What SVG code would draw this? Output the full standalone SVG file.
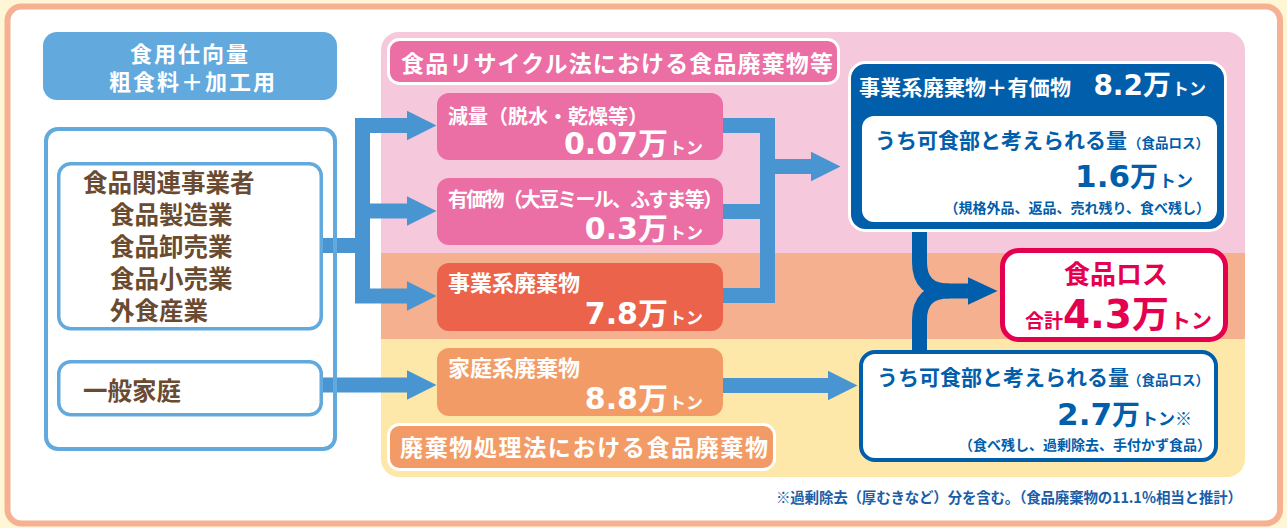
<svg xmlns="http://www.w3.org/2000/svg" width="1287" height="528" viewBox="0 0 1287 528">
<style>
.jp{font-family:"Noto Sans CJK JP","Noto Sans",sans-serif;font-weight:700}
.num{font-family:"DejaVu Sans","Liberation Sans",sans-serif;font-weight:700}
.w{fill:#ffffff}
.brown{fill:#6A4B31}
.dk{fill:#005EAB}
.red{fill:#E5004F}
.lb{fill:none;stroke:#62A9DD}
.conn{fill:none;stroke:#4895D2;stroke-width:15}
.dconn{fill:none;stroke:#005EAB;stroke-width:15}
.pk{fill:#EB6EA4}
</style>
<defs>
<clipPath id="bandclip"><rect x="381" y="32" width="864" height="445" rx="18"/></clipPath>
<marker id="ah" viewBox="0 0 30 30" markerWidth="30" markerHeight="30" refX="0.5" refY="15" orient="auto" markerUnits="userSpaceOnUse"><path d="M0,0 L30,15 L0,30 Z" fill="#4895D2"/></marker>
<marker id="ahd" viewBox="0 0 30 30" markerWidth="30" markerHeight="30" refX="0.5" refY="15" orient="auto" markerUnits="userSpaceOnUse"><path d="M0,1 L30,15 L0,29 Z" fill="#005EAB"/></marker>
</defs>
<rect x="0" y="0" width="1287" height="528" fill="#FFF6D6"/>
<rect x="7.5" y="6.5" width="1272.5" height="517" rx="14" fill="#ffffff" stroke="#F5B191" stroke-width="6"/>
<g id="bands" clip-path="url(#bandclip)">
<rect x="381" y="32" width="864" height="221" fill="#F6C8DC"/>
<rect x="381" y="253" width="864" height="86" fill="#F4B08F"/>
<rect x="381" y="339" width="864" height="138" fill="#FDE7A9"/>
</g>
<g id="connectors">
<path class="conn" d="M323,245.5 H362.5"/>
<path class="conn" d="M362.5,118 V303"/>
<path class="conn" d="M355,125.5 H407" marker-end="url(#ah)"/>
<path class="conn" d="M370,211 H407" marker-end="url(#ah)"/>
<path class="conn" d="M355,296 H407" marker-end="url(#ah)"/>
<path class="conn" d="M323,385 H407" marker-end="url(#ah)"/>
<path class="conn" d="M723,125.5 H767.5 V295.5 H723" stroke-linejoin="miter"/>
<path class="conn" d="M723,211.5 H760"/>
<path class="conn" d="M775,166.5 H811" marker-end="url(#ah)"/>
<path class="conn" d="M723,385.5 H828" marker-end="url(#ah)"/>
<path class="dconn" d="M919.5,232 V262 Q919.5,291 949,291 H968" marker-end="url(#ahd)"/>
<path class="dconn" d="M919.5,351 V320 Q919.5,291 949,291"/>
</g>
<g id="title-node">
<rect x="43" y="32" width="294" height="68" rx="14" fill="#62A9DD"/>
<text class="jp w" x="190" y="61.5" font-size="22" letter-spacing="2" text-anchor="middle">食用仕向量</text>
<text class="jp w" x="193" y="90" font-size="22" letter-spacing="2" text-anchor="middle">粗食料＋加工用</text>
</g>
<g id="source-frame">
<rect class="lb" x="46" y="129" width="289" height="320" rx="12" stroke-width="4"/>
</g>
<g id="business-node">
<rect class="lb" x="58.75" y="163.75" width="262.5" height="165" rx="12" stroke-width="3.5" fill="#ffffff"/>
<text class="jp brown" font-size="24.5">
<tspan x="83" y="191.5">食品関連事業者</tspan>
<tspan x="110" y="223.5">食品製造業</tspan>
<tspan x="110" y="255.5">食品卸売業</tspan>
<tspan x="110" y="287.5">食品小売業</tspan>
<tspan x="110" y="319.5">外食産業</tspan>
</text>
</g>
<g id="household-node">
<rect class="lb" x="58.75" y="361.75" width="262.5" height="53" rx="12" stroke-width="3.5" fill="#ffffff"/>
<text class="jp brown" x="83" y="399.5" font-size="24.5">一般家庭</text>
</g>
<g id="recycle-law-label">
<rect x="388.5" y="39.5" width="450" height="44" rx="11" fill="#EB6EA4" stroke="#ffffff" stroke-width="3"/>
<text class="jp w" x="401" y="71.5" font-size="23" textLength="432">食品リサイクル法における食品廃棄物等</text>
</g>
<g id="reduction-node">
<rect class="pk" x="437" y="93" width="286" height="67" rx="12"/>
<text class="jp w" x="448" y="123.5" font-size="20">減量（脱水・乾燥等）</text>
<text class="w" x="703" y="154" text-anchor="end"><tspan class="num" font-size="30">0.07</tspan><tspan class="jp" font-size="30">万</tspan><tspan class="jp" font-size="17" dx="1">トン</tspan></text>
</g>
<g id="valuable-node">
<rect class="pk" x="437" y="178" width="286" height="67" rx="12"/>
<text class="jp w" x="448" y="206.5" font-size="20" textLength="275">有価物（大豆ミール、ふすま等）</text>
<text class="w" x="703" y="239" text-anchor="end"><tspan class="num" font-size="30">0.3</tspan><tspan class="jp" font-size="30">万</tspan><tspan class="jp" font-size="17" dx="1">トン</tspan></text>
</g>
<g id="business-waste-node">
<rect x="437" y="263" width="286" height="68" rx="12" fill="#EC634C"/>
<text class="jp w" x="448" y="290.5" font-size="22">事業系廃棄物</text>
<text class="w" x="703" y="324" text-anchor="end"><tspan class="num" font-size="30">7.8</tspan><tspan class="jp" font-size="30">万</tspan><tspan class="jp" font-size="17" dx="1">トン</tspan></text>
</g>
<g id="household-waste-node">
<rect x="437" y="348" width="286" height="68" rx="12" fill="#F39B66"/>
<text class="jp w" x="448" y="375.5" font-size="22">家庭系廃棄物</text>
<text class="w" x="703" y="409" text-anchor="end"><tspan class="num" font-size="30">8.8</tspan><tspan class="jp" font-size="30">万</tspan><tspan class="jp" font-size="17" dx="1">トン</tspan></text>
</g>
<g id="waste-law-label">
<rect x="388.5" y="424.5" width="386" height="45" rx="11" fill="#F39B66" stroke="#ffffff" stroke-width="3"/>
<text class="jp w" x="400" y="456" font-size="23" textLength="368">廃棄物処理法における食品廃棄物</text>
</g>
<g id="business-total-node">
<rect x="849.5" y="62.5" width="376" height="168" rx="16" fill="#005EAB" stroke="#ffffff" stroke-width="3"/>
<text class="jp w" x="859" y="95" font-size="21" textLength="212">事業系廃棄物＋有価物</text>
<text class="w" x="1206" y="95" text-anchor="end"><tspan class="num" font-size="28">8.2</tspan><tspan class="jp" font-size="28">万</tspan><tspan class="jp" font-size="17" dx="1">トン</tspan></text>
<rect x="862" y="116" width="355" height="106" rx="12" fill="#ffffff"/>
<text class="jp dk" x="875" y="148" font-size="21" textLength="252">うち可食部と考えられる量</text>
<text class="jp dk" x="1128" y="148" font-size="13.5">（食品ロス）</text>
<text class="dk" x="1193" y="187" text-anchor="end"><tspan class="num" font-size="31">1.6</tspan><tspan class="jp" font-size="28">万</tspan><tspan class="jp" font-size="17" dx="1">トン</tspan></text>
<text class="jp dk" x="1210" y="213" font-size="14" text-anchor="end">（規格外品、返品、売れ残り、食べ残し）</text>
</g>
<g id="food-loss-total-node">
<rect x="1002.5" y="250.5" width="223" height="89" rx="16" fill="#ffffff" stroke="#E5004F" stroke-width="5"/>
<text class="jp red" x="1116" y="284" font-size="26" text-anchor="middle">食品ロス</text>
<text class="red" x="1212" y="328" text-anchor="end"><tspan class="jp" font-size="19">合計</tspan><tspan class="num" font-size="39">4.3</tspan><tspan class="jp" font-size="37">万</tspan><tspan class="jp" font-size="21" dx="1">トン</tspan></text>
</g>
<g id="household-loss-node">
<rect x="861" y="352" width="355" height="108" rx="14" fill="#ffffff" stroke="#005EAB" stroke-width="4"/>
<text class="jp dk" x="877" y="385" font-size="21" textLength="252">うち可食部と考えられる量</text>
<text class="jp dk" x="1128" y="385" font-size="13.5">（食品ロス）</text>
<text class="dk" x="1192" y="425" text-anchor="end"><tspan class="num" font-size="31">2.7</tspan><tspan class="jp" font-size="28">万</tspan><tspan class="jp" font-size="17" dx="1">トン※</tspan></text>
<text class="jp dk" x="1211" y="450" font-size="14" text-anchor="end">（食べ残し、過剰除去、手付かず食品）</text>
</g>
<g id="footnote">
<text class="jp" x="776" y="503" font-size="14.5" fill="#1A5EA8" textLength="466">※過剰除去（厚むきなど）分を含む。（食品廃棄物の11.1％相当と推計）</text>
</g>
</svg>
